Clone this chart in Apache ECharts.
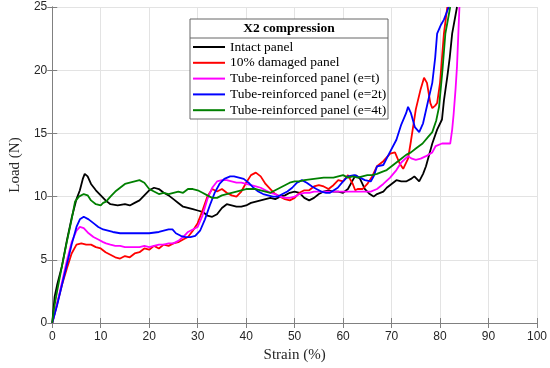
<!DOCTYPE html>
<html>
<head>
<meta charset="utf-8">
<script src="https://cdn.jsdelivr.net/npm/echarts@6/dist/echarts.min.js"></script>
<style>html,body{margin:0;padding:0;background:#fff}#c{width:550px;height:368px}</style>
</head>
<body>
<div id="c"></div>
<script>
const legendTitle = "X2 compression";
const seriesNames = ["Intact panel","10% damaged panel","Tube-reinforced panel (e=t)","Tube-reinforced panel (e=2t)","Tube-reinforced panel (e=4t)"];
const xTicks = [0,10,20,30,40,50,60,70,80,90,100];
const yTicks = [0,5,10,15,20,25];

const intact = [[0,0],[0.5,2.1],[1,3],[2,4.5],[3,6.5],[4,8.3],[5,9.8],[5.7,10.5],[6.3,11.4],[6.7,11.8],[7.3,11.6],[8,11],[9,10.5],[10,10.1],[11,9.7],[12,9.4],[13.5,9.3],[15,9.4],[16,9.3],[17,9.5],[18,9.7],[19,10.1],[20,10.5],[21,10.7],[22,10.6],[23,10.3],[24,10.1],[25,9.8],[26,9.5],[27,9.2],[28,9.1],[29,9],[30,8.9],[31,8.8],[32,8.5],[33,8.4],[34,8.6],[35,9.1],[36,9.4],[37,9.3],[38,9.2],[39,9.2],[40,9.3],[41,9.5],[42,9.6],[43,9.7],[44,9.8],[45,9.9],[46,9.8],[47,10.0],[48,10.1],[49,10.3],[50,10.4],[51,10.3],[52,9.9],[53,9.7],[54,9.9],[55,10.2],[56,10.4],[57,10.5],[58,10.4],[59,10.4],[60,10.3],[61,10.6],[62,11.3],[62.6,11.7],[63.5,11.4],[64.5,10.6],[65.5,10.2],[66.3,10.0],[67,10.2],[68.3,10.4],[69,10.7],[70,11.0],[71,11.3],[72,11.2],[73,11.2],[74,11.4],[74.7,11.6],[75.7,11.2],[76.5,11.8],[77.1,12.4],[78.4,14.2],[79.4,15.3],[80.4,16.1],[80.8,17.6],[81.5,19.5],[82,21],[82.5,22.9],[83.5,25]];
const damaged = [[0,0],[1,1.5],[2,3],[3,4.3],[4,5.5],[5,6.2],[5.4,6.3],[6,6.3],[7,6.2],[8,6.2],[8.4,6.1],[9,6.0],[10,5.9],[11,5.6],[12,5.4],[13,5.2],[14,5.1],[15,5.3],[16,5.2],[17,5.5],[18,5.6],[19,5.9],[20,5.8],[21,6.1],[22,5.9],[23,6.2],[24,6.1],[25,6.3],[26,6.4],[27,6.6],[28,6.8],[29,7.3],[30,7.9],[31,8.9],[32,10.0],[33,10.6],[34,10.4],[35,10.6],[36,10.3],[37,10.1],[38,10.0],[39,10.4],[40,11.1],[41,11.7],[42,11.9],[43,11.6],[44,11.0],[45,10.6],[46,10.2],[47,10.0],[48,9.8],[49,9.7],[50,9.9],[51,10.3],[52,10.5],[53,10.5],[54,10.8],[55,10.9],[56,10.8],[57,10.6],[58,10.9],[59,11.3],[60,11.2],[61,11.7],[62,11.0],[62.5,10.5],[63,10.6],[64,10.6],[65,11.0],[66,11.6],[67,12.4],[68.3,12.8],[69.7,13.4],[70.7,13.5],[71.7,12.6],[72.4,12.2],[73.4,13.0],[74,14.4],[75,16.9],[76,18.5],[76.7,19.4],[77.3,19.0],[78,17.4],[78.4,17.0],[79,17.2],[79.4,17.4],[80,19],[80.8,22.9],[81.5,25]];
const tubeT = [[0,0],[1,1.5],[2,3.2],[3,4.9],[4,6.4],[5,7.3],[5.7,7.6],[6.5,7.5],[7.5,7.1],[8.5,6.8],[9.5,6.6],[10.5,6.4],[11.1,6.3],[12,6.2],[13,6.1],[14,6.1],[15,6.0],[16,6.0],[17,6.0],[18,6.0],[19,6.1],[20,6.0],[21,6.1],[22,6.2],[23,6.2],[24,6.3],[25,6.3],[26,6.5],[27,6.8],[28,7.2],[29,7.4],[30,7.6],[31,8.5],[32,9.8],[33,10.7],[34,11.2],[35,11.3],[36,11.3],[37,11.2],[38,11.1],[39,11.1],[40,11.0],[41,10.9],[42,10.8],[43,10.7],[44,10.5],[45,10.3],[46,10.2],[47,10.0],[48,9.9],[49,9.9],[50,10.0],[51,10.2],[52,10.3],[53,10.3],[54,10.4],[56,10.4],[58,10.4],[60,10.4],[62,10.4],[64,10.4],[65.7,10.4],[67,10.6],[68.3,11.0],[69.7,11.5],[71,12.1],[72,12.7],[73.4,13.2],[74.2,13.0],[75,12.9],[76,13.0],[77.1,13.2],[78.4,13.5],[79.1,14.0],[80.4,14.2],[82.1,14.2],[82.5,15.3],[82.8,16.5],[83.2,18.5],[83.5,20.3],[84,25]];
const tube2T = [[0,0],[1,1.4],[2,3],[3,4.6],[4,6.2],[5,7.6],[5.7,8.2],[6.5,8.4],[7.5,8.2],[8.5,7.9],[9.5,7.6],[10.5,7.4],[11.5,7.3],[12.5,7.2],[14,7.1],[16,7.1],[18,7.1],[20,7.1],[22,7.2],[23,7.3],[24,7.4],[24.8,7.4],[25.5,7.1],[26.5,6.9],[27.5,6.8],[28.5,6.8],[29.5,6.9],[30.5,7.3],[31.5,8.2],[32.5,9.3],[33.5,10.3],[34.5,11.0],[35.5,11.4],[36.7,11.6],[37.5,11.6],[38.5,11.5],[39.5,11.4],[40.5,11.1],[41.5,10.7],[42.5,10.4],[43.5,10.2],[44.5,10.1],[45.5,10.0],[46.5,10.0],[47.5,10.2],[48.5,10.4],[49.5,10.7],[50.5,11.1],[51.5,11.3],[52.5,11.1],[53.6,10.8],[54.5,10.6],[55.5,10.4],[56.5,10.3],[57.3,10.3],[58.9,10.7],[60,11.2],[61,11.6],[62.3,11.7],[63.5,11.5],[64.5,11.3],[65.7,11.2],[66.3,11.6],[67,12.4],[68.3,12.5],[69.5,13.4],[71,14.5],[72,15.7],[73,16.6],[73.4,17.1],[74,16.6],[74.8,15.5],[75.7,15.1],[76.5,15.8],[77.5,17.5],[78.4,19],[79,21],[79.4,22.9],[80.2,23.6],[80.8,24],[81.8,25]];
const tube4T = [[0,0],[0.3,1.0],[1,2.5],[2,4.5],[3,6.4],[4,8.2],[4.7,9.6],[5.5,10.0],[6.5,10.2],[7.3,10.1],[8,9.7],[9,9.4],[9.4,9.3],[10,9.3],[10.5,9.5],[11.1,9.6],[12,10.0],[13,10.4],[14,10.7],[15,11.0],[16,11.1],[17,11.2],[18,11.3],[19,11.1],[20,10.6],[21,10.4],[22,10.2],[23,10.3],[24,10.2],[25,10.3],[26,10.4],[27,10.3],[28,10.6],[29,10.6],[30,10.5],[31,10.3],[32,10.1],[33,9.9],[34,9.9],[35,10.1],[36,10.2],[37,10.3],[38,10.4],[39,10.5],[40,10.6],[41,10.6],[42,10.6],[43,10.5],[44,10.4],[45,10.3],[46,10.5],[47,10.7],[48,10.9],[49,11.1],[50,11.2],[51,11.2],[52,11.3],[54,11.4],[56,11.5],[58,11.5],[59,11.6],[60,11.7],[61,11.5],[62,11.6],[63,11.5],[64,11.6],[65,11.7],[66,11.7],[67,11.8],[68.3,12.0],[69,12.1],[70,12.4],[71,12.7],[72,13.0],[73,13.3],[74,13.5],[75,13.8],[76.4,14.2],[77.5,14.7],[78.4,15.1],[79.2,16.0],[79.8,17.1],[80.5,20],[81.1,22.9],[82.1,25]];

const seriesData = [intact, damaged, tubeT, tube2T, tube4T];
const colors = ["#000000","#ff0000","#ff00ff","#0000ff","#008000"];

const chart = echarts.init(document.getElementById('c'), null, {renderer:'canvas'});
const axisCol = '#808080';
const tickFont = {fontFamily:'Liberation Sans', fontSize:12, color:'#262626'};
const nameFont = {fontFamily:'Liberation Serif', fontSize:15, color:'#262626'};

const opt = {
  animation:false,
  backgroundColor:'#fff',
  grid:{left:41, right:13, top:7, bottom:45},
  xAxis:[{
    type:'value', min:xTicks[0], max:xTicks[xTicks.length-1], interval:10,
    name:'Strain (%)', nameLocation:'middle', nameGap:22, nameTextStyle:nameFont,
    axisLine:{show:true, lineStyle:{color:axisCol, width:1}},
    axisTick:{show:true, inside:true, length:5, lineStyle:{color:axisCol}},
    axisLabel:Object.assign({margin:8}, tickFont),
    splitLine:{show:true, lineStyle:{color:'#e3e3e3', width:1}}
  },{
    type:'value', position:'top', min:0, max:100, interval:10,
    axisLine:{show:true, lineStyle:{color:axisCol}},
    axisTick:{show:true, inside:true, length:5, lineStyle:{color:axisCol}},
    axisLabel:{show:false}, splitLine:{show:false}
  }],
  yAxis:[{
    type:'value', min:yTicks[0], max:yTicks[yTicks.length-1], interval:5,
    name:'Load (N)', nameLocation:'middle', nameGap:23, nameTextStyle:nameFont,
    axisLine:{show:true, lineStyle:{color:axisCol, width:1}},
    axisTick:{show:true, inside:true, length:5, lineStyle:{color:axisCol}},
    axisLabel:Object.assign({margin:5}, tickFont),
    splitLine:{show:true, lineStyle:{color:'#e3e3e3', width:1}}
  },{
    type:'value', position:'right', min:0, max:25, interval:5,
    axisLine:{show:true, lineStyle:{color:axisCol}},
    axisTick:{show:true, inside:true, length:5, lineStyle:{color:axisCol}},
    axisLabel:{show:false}, splitLine:{show:false}
  }],
  legend:{
    orient:'vertical', left:193, top:40, z:20, padding:0,
    icon:'rect', itemWidth:32, itemHeight:2, itemGap:1.8,
    textStyle:{fontFamily:'Liberation Serif', fontSize:13.5, lineHeight:14, color:'#000'},
    data:seriesNames
  },
  graphic:[
    {type:'rect', z:15, shape:{x:190, y:19, width:198, height:100}, style:{fill:'#fff', stroke:'#666', lineWidth:1}},
    {type:'line', z:16, shape:{x1:190, y1:38, x2:388, y2:38}, style:{stroke:'#666', lineWidth:1}},
    {type:'text', z:16, x:289, y:29, style:{text:legendTitle, fill:'#000', font:'bold 13.5px "Liberation Serif"', textAlign:'center', textVerticalAlign:'middle'}}
  ],
  series: seriesNames.map((n,i)=>({
    name:n, type:'line', data:seriesData[i], symbol:'none', smooth:false,
    lineStyle:{color:colors[i], width:1.8}, itemStyle:{color:colors[i]},
    clip:true
  }))
};
chart.setOption(opt);
</script>
</body>
</html>
